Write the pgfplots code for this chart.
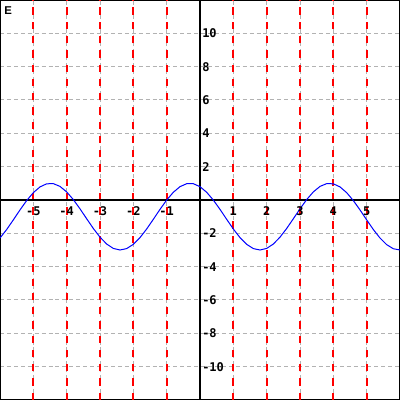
\documentclass[border=0pt]{standalone}
\usepackage{pgfplots}
\pgfplotsset{compat=1.18}
\usepackage{fontspec}
\newfontfamily\labfont{DejaVu Sans Mono}
\newfontfamily\sansb{Liberation Sans}
\begin{document}
\begin{tikzpicture}
\begin{axis}[
  name=main,
  scale only axis, width=300pt, height=300pt,
  xmin=-6, xmax=6, ymin=-12, ymax=12,
  xtick={-6,-5,...,6}, ytick={-12,-10,...,12},
  xticklabels={}, yticklabels={},
  major tick length=0pt,
  grid=major,
  major grid style={color=black!30, line width=0.75pt, dash pattern=on 3pt off 2.2pt},
  axis line style={black, line width=1.5pt},
]
\pgfplotsinvokeforeach{-5,-4,-3,-2,-1,0,1,2,3,4,5}{
  \addplot[red, line width=1.5pt, dash pattern=on 5.5pt off 5.2pt] coordinates {(#1,-12) (#1,12)};
}
\addplot[black, line width=0.9pt] coordinates {(-6,0) (6,0)};
\addplot[black, line width=0.9pt] coordinates {(0,-12) (0,12)};
\addplot[blue, line width=0.75pt] coordinates {
(-6.0,-2.282) (-5.8,-1.772) (-5.6,-1.192) (-5.4,-0.595) (-5.2,-0.034)
(-5.0,0.440) (-4.8,0.786) (-4.6,0.972) (-4.4,0.982) (-4.2,0.815)
(-4.0,0.486) (-3.8,0.024) (-3.6,-0.529) (-3.4,-1.125) (-3.2,-1.709)
(-3.0,-2.230) (-2.8,-2.641) (-2.6,-2.906) (-2.4,-3.000) (-2.2,-2.916)
(-2.0,-2.660) (-1.8,-2.256) (-1.6,-1.740) (-1.4,-1.158) (-1.2,-0.562)
(-1.0,-0.005) (-0.8,0.463) (-0.6,0.801) (-0.4,0.978) (-0.2,0.978)
(0.0,0.801) (0.2,0.463) (0.4,-0.005) (0.6,-0.562) (0.8,-1.158)
(1.0,-1.740) (1.2,-2.256) (1.4,-2.660) (1.6,-2.916) (1.8,-3.000)
(2.0,-2.906) (2.2,-2.641) (2.4,-2.230) (2.6,-1.709) (2.8,-1.125)
(3.0,-0.529) (3.2,0.024) (3.4,0.486) (3.6,0.815) (3.8,0.982)
(4.0,0.972) (4.2,0.786) (4.4,0.440) (4.6,-0.034) (4.8,-0.595)
(5.0,-1.192) (5.2,-1.772) (5.4,-2.282) (5.6,-2.679) (5.8,-2.925)
(6.0,-2.999)
};
\pgfplotsinvokeforeach{-5,-4,-3,-2,-1,1,2,3,4,5}{
  \node[anchor=north, inner sep=0pt, font=\labfont\bfseries\fontsize{9}{10}\selectfont] at (axis cs:#1,-0.4) {#1};
}
\pgfplotsinvokeforeach{10,8,6,4,2,-2,-4,-6,-8,-10}{
  \node[anchor=west, inner sep=0pt, font=\labfont\bfseries\fontsize{9}{10}\selectfont] at (axis cs:0.06,#1) {#1};
}
\node[anchor=north west, inner sep=0pt, font=\sansb\bfseries\fontsize{8.5}{10}\selectfont] at (rel axis cs:0,1) [xshift=3pt, yshift=-5pt] {E};
\end{axis}
\pgfresetboundingbox
\path (main.south west) rectangle (main.north east);
\end{tikzpicture}
\end{document}
